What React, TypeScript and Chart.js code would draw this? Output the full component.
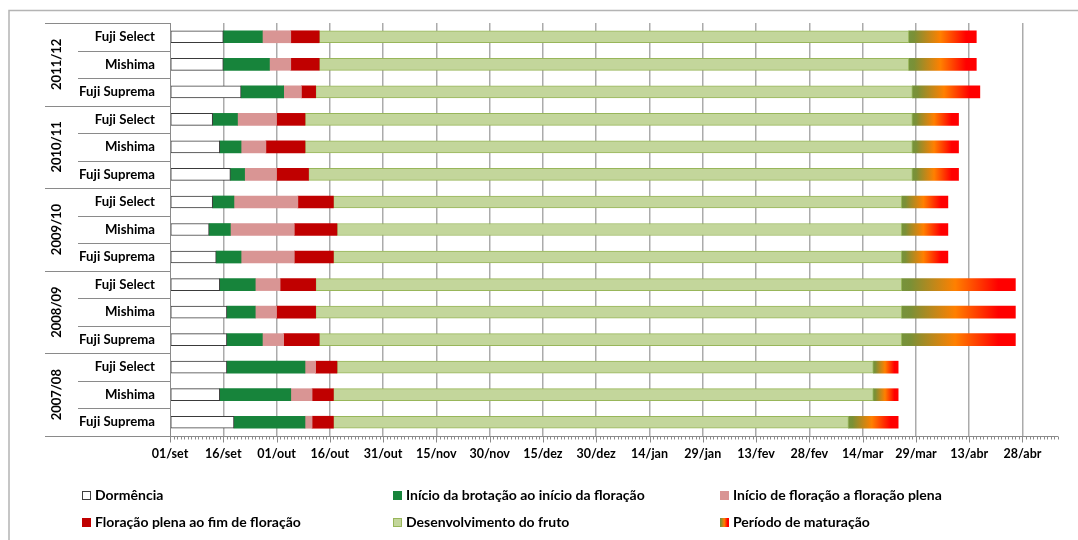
import React, { useEffect, useRef } from 'react';
import { Chart, registerables } from 'chart.js';

Chart.register(...registerables);

// ---------- data ----------
const varieties = ['Fuji Select', 'Mishima', 'Fuji Suprema'];
const seasons = ['2011/12', '2010/11', '2009/10', '2008/09', '2007/08'];
const rowLabels = seasons.flatMap(() => varieties);

const tickLabels = [
  '01/set', '16/set', '01/out', '16/out', '31/out', '15/nov', '30/nov', '15/dez',
  '30/dez', '14/jan', '29/jan', '13/fev', '28/fev', '14/mar', '29/mar', '13/abr', '28/abr',
];
const tickStepDays = 15;
const axisMaxDays = 250;

// phase boundaries, in days after 01/set (one value per row, top to bottom)
const dormancyStart = [0, 0, 0, 0, 0, 0, 0, 0, 0, 0, 0, 0, 0, 0, 0];
const budBreak = [15, 15, 20, 12, 14, 17, 12, 11, 13, 14, 16, 16, 16, 14, 18];
const bloomStart = [26, 28, 32, 19, 20, 21, 18, 17, 20, 24, 24, 26, 38, 34, 38];
const fullBloom = [34, 34, 37, 30, 27, 30, 36, 35, 35, 31, 30, 32, 41, 40, 40];
const bloomEnd = [42, 42, 41, 38, 38, 39, 46, 47, 46, 41, 41, 42, 47, 46, 46];
const maturationStart = [208, 208, 209, 209, 209, 209, 206, 206, 206, 206, 206, 206, 198, 198, 191];
const harvestEnd = [227, 227, 228, 222, 222, 222, 219, 219, 219, 238, 238, 238, 205, 205, 205];

const phaseLabels = [
  'Dormência',
  'Início da brotação ao início da floração',
  'Início de floração a floração plena',
  'Floração plena ao fim de floração',
  'Desenvolvimento do fruto',
  'Período de maturação',
];

const FONT = 'Lato, "Open Sans", sans-serif';
const GREEN = '#17843b';
const PINK = '#d99594';
const RED = '#c00000';
const LIGHT = '#c3d69b';
const LIGHT_BORDER = '#98b65a';

function makeMaturationGradient(ctx: CanvasRenderingContext2D, x0: number, x1: number) {
  const g = ctx.createLinearGradient(x0, 0, x1, 0);
  g.addColorStop(0, '#76933c');
  g.addColorStop(0.08, '#7b9036');
  g.addColorStop(0.47, '#ff8000');
  g.addColorStop(0.85, '#ff0000');
  g.addColorStop(1, '#ff0000');
  return g;
}

const pairs = (a: number[], b: number[]) => a.map((v, i) => [v, b[i]]);

const decorPlugin = {
  id: 'decor',
  beforeDraw(chart: any) {
    const ctx = chart.ctx as CanvasRenderingContext2D;
    ctx.save();
    ctx.strokeStyle = '#b4b4b4';
    ctx.lineWidth = 1.5;
    ctx.beginPath();
    ctx.moveTo(9, 540);
    ctx.lineTo(9, 10.5);
    ctx.lineTo(1078, 10.5);
    ctx.stroke();
    ctx.restore();
  },
  afterDraw(chart: any) {
    const ctx = chart.ctx as CanvasRenderingContext2D;
    const { top, bottom, left, right } = chart.chartArea;
    const xs = chart.scales.x;
    const n = rowLabels.length;
    const band = (bottom - top) / n;
    ctx.save();
    ctx.strokeStyle = '#8a8a8a';
    ctx.lineWidth = 1;
    // category separators
    for (let i = 0; i <= n; i++) {
      const y = Math.round(top + i * band) + 0.5;
      const x0 = i % 3 === 0 ? 45 : 78;
      ctx.beginPath();
      ctx.moveTo(x0, y);
      ctx.lineTo(left, y);
      ctx.stroke();
    }
    // y axis line
    ctx.beginPath();
    ctx.moveTo(left + 0.5, top);
    ctx.lineTo(left + 0.5, bottom);
    ctx.stroke();
    // x axis line + ticks
    const yb = Math.round(bottom) + 0.5;
    ctx.beginPath();
    ctx.moveTo(left, yb);
    ctx.lineTo(right, yb);
    ctx.stroke();
    for (let d = 0; d <= axisMaxDays; d++) {
      const x = Math.round(xs.getPixelForValue(d)) + 0.5;
      const len = d % tickStepDays === 0 ? 6 : 3;
      ctx.beginPath();
      ctx.moveTo(x, yb);
      ctx.lineTo(x, yb + len);
      ctx.stroke();
    }
    // season labels
    ctx.fillStyle = '#000';
    ctx.font = `bold 13px ${FONT}`;
    ctx.textAlign = 'center';
    ctx.textBaseline = 'middle';
    seasons.forEach((s, i) => {
      const cy = top + (i * 3 + 1.5) * band;
      ctx.save();
      ctx.translate(57, cy);
      ctx.rotate(-Math.PI / 2);
      ctx.fillText(s, 0, 0);
      ctx.restore();
    });
    // legend
    const cols = [82, 393, 720];
    const rows = [495.5, 522];
    ctx.font = `bold 14px ${FONT}`;
    ctx.textAlign = 'left';
    phaseLabels.forEach((label, i) => {
      const bx = cols[i % 3];
      const cy = rows[Math.floor(i / 3)];
      const by = Math.round(cy - 4.5);
      let fill: any;
      let stroke: string | null = null;
      if (i === 0) { fill = '#ffffff'; stroke = '#404040'; }
      else if (i === 1) fill = GREEN;
      else if (i === 2) fill = PINK;
      else if (i === 3) fill = RED;
      else if (i === 4) { fill = LIGHT; stroke = LIGHT_BORDER; }
      else fill = makeMaturationGradient(ctx, bx, bx + 9);
      ctx.fillStyle = fill;
      ctx.fillRect(bx, by, 9, 9);
      if (stroke) {
        ctx.strokeStyle = stroke;
        ctx.lineWidth = 1;
        ctx.strokeRect(bx + 0.5, by + 0.5, 8, 8);
      }
      ctx.fillStyle = '#000';
      ctx.fillText(label, bx + 13, cy);
    });
    ctx.restore();
  },
};

export default function App() {
  const ref = useRef<HTMLCanvasElement | null>(null);

  useEffect(() => {
    const canvas = ref.current;
    if (!canvas) return;
    const common = { grouped: false, barThickness: 12, borderSkipped: false as const };
    const chart = new Chart(canvas, {
      type: 'bar',
      data: {
        labels: rowLabels,
        datasets: [
          { ...common, label: phaseLabels[0], data: pairs(dormancyStart, budBreak) as any, backgroundColor: '#ffffff', borderColor: '#3a3a3a', borderWidth: 1 },
          { ...common, label: phaseLabels[1], data: pairs(budBreak, bloomStart) as any, backgroundColor: GREEN, borderWidth: 0 },
          { ...common, label: phaseLabels[2], data: pairs(bloomStart, fullBloom) as any, backgroundColor: PINK, borderWidth: 0 },
          { ...common, label: phaseLabels[3], data: pairs(fullBloom, bloomEnd) as any, backgroundColor: RED, borderWidth: 0 },
          { ...common, label: phaseLabels[4], data: pairs(bloomEnd, maturationStart) as any, backgroundColor: LIGHT, borderColor: LIGHT_BORDER, borderWidth: 1 },
          {
            ...common,
            label: phaseLabels[5],
            data: pairs(maturationStart, harvestEnd) as any,
            borderWidth: 0,
            backgroundColor: (c: any) => {
              const ch = c.chart;
              const xs = ch.scales && ch.scales.x;
              const raw = c.raw as number[] | undefined;
              if (!xs || !ch.chartArea || !raw || !Array.isArray(raw)) return '#ff8000';
              return makeMaturationGradient(ch.ctx, xs.getPixelForValue(raw[0]), xs.getPixelForValue(raw[1]));
            },
          },
        ],
      },
      options: {
        indexAxis: 'y',
        responsive: false,
        maintainAspectRatio: false,
        animation: false,
        devicePixelRatio: 1,
        layout: { padding: { top: 23, right: 20, left: 0, bottom: 0 } },
        plugins: { legend: { display: false }, tooltip: { enabled: false } },
        scales: {
          x: {
            type: 'linear',
            min: 0,
            max: axisMaxDays,
            afterBuildTicks: (s: any) => {
              s.ticks = tickLabels.map((_, i) => ({ value: i * tickStepDays }));
            },
            afterFit: (s: any) => { s.height = 104; },
            ticks: {
              callback: (v: any) => tickLabels[Math.round(Number(v) / tickStepDays)] ?? '',
              font: { family: FONT, weight: 'bold', size: 12.5 },
              color: '#000',
              padding: 10,
              maxRotation: 0,
              autoSkip: false,
            },
            grid: {
              color: (c: any) => (c.tick && c.tick.value === 0 ? 'rgba(0,0,0,0)' : '#ababab'),
              lineWidth: 1.5,
              drawTicks: false,
            },
            border: { display: false },
          },
          y: {
            type: 'category',
            afterFit: (s: any) => { s.width = 170; },
            ticks: {
              font: { family: FONT, weight: 'bold', size: 13.2 },
              color: '#000',
              padding: 15,
              autoSkip: false,
            },
            grid: { display: false, drawTicks: false },
            border: { display: false },
          },
        },
      },
      plugins: [decorPlugin],
    });
    return () => chart.destroy();
  }, []);

  return (
    <div style={{ position: 'fixed', left: 0, top: 0, width: 1078, height: 540, background: '#fff' }}>
      <canvas ref={ref} width={1078} height={540} style={{ display: 'block', width: 1078, height: 540 }} />
    </div>
  );
}
